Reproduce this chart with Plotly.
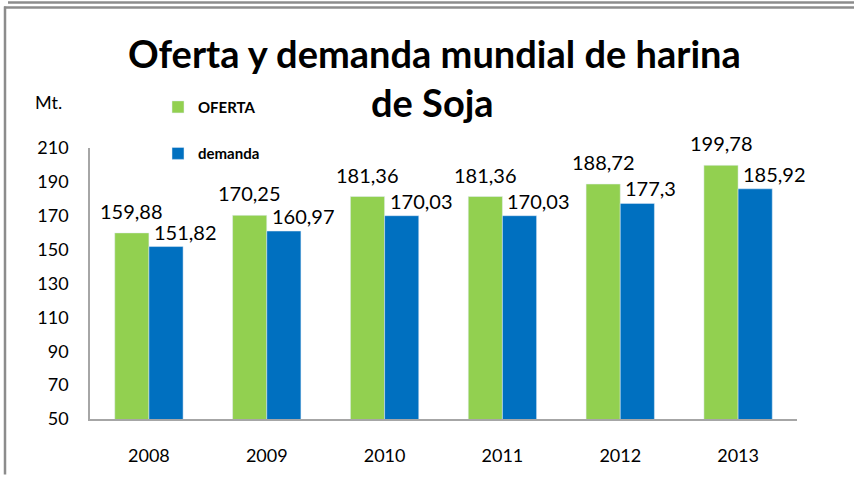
import plotly.graph_objects as go

# Datos (millones de toneladas)
years = ["2008", "2009", "2010", "2011", "2012", "2013"]
oferta = [159.88, 170.25, 181.36, 181.36, 188.72, 199.78]
demanda = [151.82, 160.97, 170.03, 170.03, 177.3, 185.92]
y_ticks = [50, 70, 90, 110, 130, 150, 170, 190, 210]

GREEN = "#92D050"
BLUE = "#0070C0"
FONT = "Lato"

W, H = 854, 478
L, R, T, B = 90, 57, 148, 56
PW, PH = W - L - R, H - T - B


def fmt(v):
    s = f"{v:.2f}".rstrip("0").rstrip(".")
    return s.replace(".", ",")


fig = go.Figure()
fig.add_trace(go.Bar(x=years, y=oferta, name="<b>OFERTA</b>", marker_color=GREEN,
                     legendgroup="a"))
fig.add_trace(go.Bar(x=years, y=demanda, name="<b>demanda</b>", marker_color=BLUE,
                     legendgroup="b"))

# Etiquetas de valor (x = índice de categoría)
for i, v in enumerate(oferta):
    fig.add_annotation(x=i, y=v, text=fmt(v), showarrow=False, xshift=-17,
                       yanchor="bottom", yshift=8, xanchor="center",
                       font=dict(family=FONT, size=20, color="#000"))
for i, v in enumerate(demanda):
    fig.add_annotation(x=i, y=v, text=fmt(v), showarrow=False, xshift=3,
                       yanchor="bottom", yshift=1, xanchor="left",
                       font=dict(family=FONT, size=20, color="#000"))

# Título
fig.add_annotation(xref="paper", yref="paper", x=(434 - L) / PW, y=(H - B - 52) / PH,
                   text="<b>Oferta y demanda mundial de harina</b>", showarrow=False,
                   xanchor="center", yanchor="middle",
                   font=dict(family=FONT, size=38, color="#000"))
fig.add_annotation(xref="paper", yref="paper", x=(432 - L) / PW, y=(H - B - 101) / PH,
                   text="<b>de Soja</b>", showarrow=False,
                   xanchor="center", yanchor="middle",
                   font=dict(family=FONT, size=38, color="#000"))
fig.add_annotation(xref="paper", yref="paper", x=(33 - L) / PW, y=(H - B - 101) / PH,
                   text="Mt.", showarrow=False, xanchor="left", yanchor="middle",
                   font=dict(family=FONT, size=18, color="#000"))

# Marco
fig.add_shape(type="line", xref="paper", yref="paper",
              x0=(8 - L) / PW, x1=(W - L) / PW, y0=(H - B - 1) / PH, y1=(H - B - 1) / PH,
              line=dict(color="#8C8C8C", width=2.5))
fig.add_shape(type="line", xref="paper", yref="paper",
              x0=(4 - L) / PW, x1=(W - L) / PW, y0=(H - B - 6) / PH, y1=(H - B - 6) / PH,
              line=dict(color="#8C8C8C", width=2.5))
fig.add_shape(type="line", xref="paper", yref="paper",
              x0=(5 - L) / PW, x1=(5 - L) / PW, y0=(H - B - 5) / PH, y1=(H - B - H) / PH,
              line=dict(color="#8C8C8C", width=2.5))

fig.update_layout(
    width=W, height=H,
    margin=dict(l=L, r=R, t=T, b=B),
    paper_bgcolor="white", plot_bgcolor="white",
    barmode="group", bargap=0.42, bargroupgap=0,
    font=dict(family=FONT, color="#000"),
    hovermode=False,
    showlegend=True,
    legend=dict(x=(158 - L) / PW, y=(H - B - 90) / PH, xanchor="left", yanchor="top",
                traceorder="grouped", tracegroupgap=24,
                font=dict(family=FONT, size=15, color="#000"),
                bgcolor="rgba(0,0,0,0)"),
)
fig.update_xaxes(type="category", range=[-0.5, len(years) - 0.5],
                 showgrid=False, showline=True, linecolor="#A6A6A6",
                 linewidth=1.5, ticks="outside", ticklen=20, tickcolor="rgba(0,0,0,0)",
                 tickfont=dict(family=FONT, size=18))
fig.update_yaxes(range=[50, 210], tickvals=y_ticks, showgrid=False, zeroline=False,
                 showline=True, linecolor="#A6A6A6", linewidth=1.5,
                 ticks="outside", ticklen=16, tickcolor="rgba(0,0,0,0)",
                 tickfont=dict(family=FONT, size=18))

fig.write_html("out.html")
